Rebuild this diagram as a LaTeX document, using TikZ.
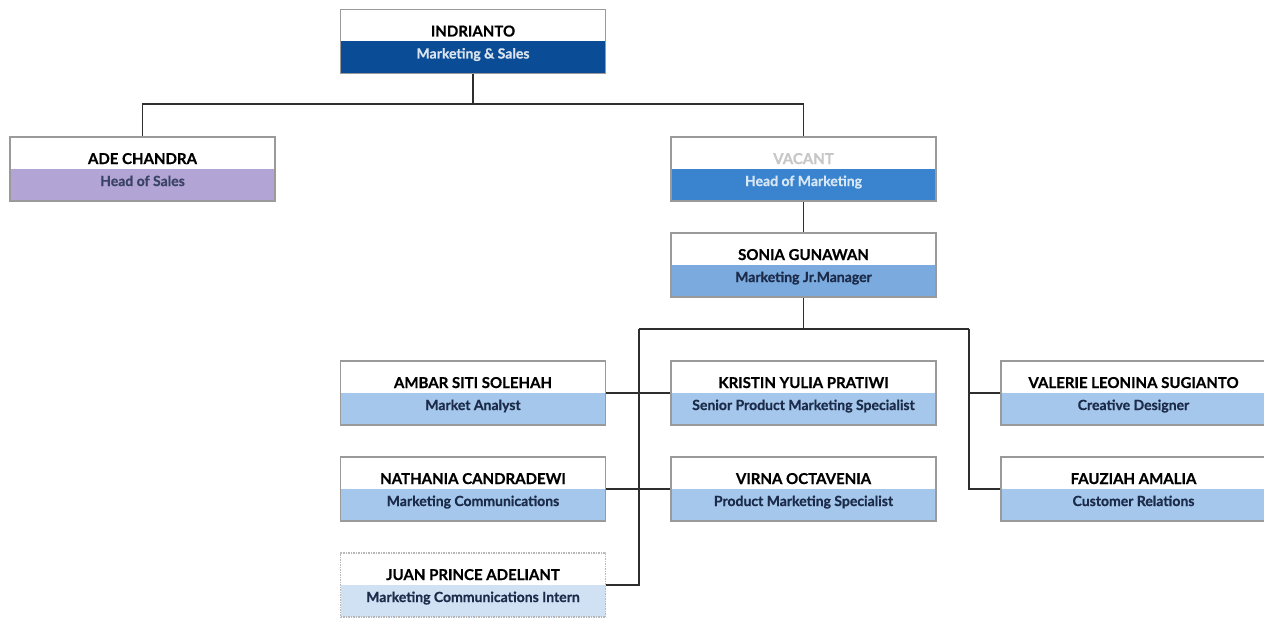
\documentclass[tikz,border=0pt]{standalone}
\usepackage{fontspec}
\setmainfont{Lato}[BoldFont={Lato Bold}, BoldFeatures={FakeBold=0.6}]
\usetikzlibrary{calc}
\definecolor{dkblue}{HTML}{0B4C96}
\definecolor{vacblue}{HTML}{3A84CF}
\definecolor{midblue}{HTML}{7AAADE}
\definecolor{ltblue}{HTML}{A4C7EB}
\definecolor{inblue}{HTML}{CFE1F3}
\definecolor{purp}{HTML}{B2A4D4}
\definecolor{navytxt}{HTML}{1C2B4A}
\definecolor{boxgray}{HTML}{9A9A9A}
\definecolor{linegray}{HTML}{2E2E2E}
\tikzset{
  orgbox/.style={draw=boxgray, line width=1.5pt, minimum width=265pt, minimum height=64pt, inner sep=0pt,
    path picture={\fill[#1] (path picture bounding box.west) rectangle (path picture bounding box.south east);}},
  dottedbox/.style={draw=boxgray!70, densely dotted},
  titletxt/.style={anchor=base, font=\bfseries\fontsize{15}{16}\selectfont, inner sep=0pt},
  subtxt/.style={anchor=base, font=\bfseries\fontsize{14}{15}\selectfont, inner sep=0pt},
  conn/.style={draw=linegray, line width=1.5pt}
}
\newcommand\orgunit[7]{%
  \node[orgbox=#3] (#1) at #2 {};
  \node[titletxt, text=#4] (#1t) at ($(#1.center)+(0,-5)$) {#6};
  \node[subtxt, text=#5] (#1s) at ($(#1.center)+(0,17)$) {#7};
}
\begin{document}
\begin{tikzpicture}[x=1pt,y=-1pt]
\useasboundingbox (0,0) rectangle (1264,618);
\fill[white] (0,0) rectangle (1264,618);
% connectors
\coordinate (b1) at (473,104);
\coordinate (b2) at (803.5,329);
\coordinate (lb) at (639,329);
\coordinate (rb) at (969,329);
\orgunit{ind}{(473,41.5)}{dkblue}{black}{white!85!dkblue}{INDRIANTO}{Marketing \& Sales}
\orgunit{ade}{(142.5,169)}{purp}{black}{navytxt!80!purp}{ADE CHANDRA}{Head of Sales}
\orgunit{vac}{(803.5,169)}{vacblue}{black!22}{white!80!vacblue}{VACANT}{Head of Marketing}
\orgunit{son}{(803.5,265)}{midblue}{black}{navytxt}{SONIA GUNAWAN}{Marketing Jr.Manager}
\orgunit{amb}{(473,393)}{ltblue}{black}{navytxt}{AMBAR SITI SOLEHAH}{Market Analyst}
\orgunit{kri}{(803.5,393)}{ltblue}{black}{navytxt}{KRISTIN YULIA PRATIWI}{Senior Product Marketing Specialist}
\orgunit{val}{(1133.5,393)}{ltblue}{black}{navytxt}{VALERIE LEONINA SUGIANTO}{Creative Designer}
\orgunit{nat}{(473,489)}{ltblue}{black}{navytxt}{NATHANIA CANDRADEWI}{Marketing Communications}
\orgunit{vir}{(803.5,489)}{ltblue}{black}{navytxt}{VIRNA OCTAVENIA}{Product Marketing Specialist}
\orgunit{fau}{(1133.5,489)}{ltblue}{black}{navytxt}{FAUZIAH AMALIA}{Customer Relations}
\node[orgbox=inblue, dottedbox] (jua) at (473,585) {};
\node[titletxt, text=black] (juat) at ($(jua.center)+(0,-5)$) {JUAN PRINCE ADELIANT};
\node[subtxt, text=navytxt] (juas) at ($(jua.center)+(0,17)$) {Marketing Communications Intern};
\draw[conn] (ind.south) -- (b1);
\draw[conn] (ade.north) |- (b1) -| (vac.north);
\draw[conn] (vac.south) -- (son.north);
\draw[conn] (son.south) -- (b2);
\draw[conn] (lb) -- (rb);
\draw[conn] (lb) |- (jua.east);
\draw[conn] (rb) |- (fau.west);
\draw[conn] (rb |- val.west) -- (val.west);
\draw[conn] (amb.east) -- (kri.west);
\draw[conn] (nat.east) -- (vir.west);
\end{tikzpicture}
\end{document}
